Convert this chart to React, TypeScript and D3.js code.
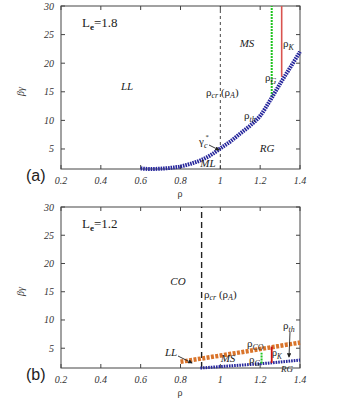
import React from 'react';
import * as d3 from 'd3';

// tick values
const xTicks = [0.2, 0.4, 0.6, 0.8, 1, 1.2, 1.4];
const yTicks = [5, 10, 15, 20, 25, 30];

// panel (a), Le = 1.8
const thA: [number, number][] = [
  [0.6, 1.6], [0.65, 1.5], [0.7, 1.55], [0.75, 1.7], [0.8, 1.95], [0.85, 2.4],
  [0.9, 3.0], [0.95, 3.9], [1.0, 5.1], [1.05, 6.3], [1.1, 7.7], [1.15, 9.1],
  [1.2, 10.8], [1.25, 13.5], [1.3, 16.4], [1.35, 19.2], [1.4, 22.0],
];
const crA = 1.0;
const gA: [number, number] = [1.258, 14.1];
const kA: [number, number] = [1.308, 17.6];

// panel (b), Le = 1.2
const thB: [number, number][] = [
  [0.9, 1.5], [1.0, 1.75], [1.1, 2.0], [1.2, 2.25], [1.3, 2.55], [1.4, 2.9],
];
const coB: [number, number][] = [[0.8, 2.6], [1.0, 3.7], [1.2, 4.85], [1.4, 6.0]];
const crB = 0.906;
const gB: [number, number, number] = [1.207, 2.3, 4.2];
const kB: [number, number, number] = [1.258, 2.4, 5.3];

const SERIF = '"Liberation Serif", "DejaVu Serif", serif';
const SANS = '"Liberation Sans", Arial, sans-serif';

function Sub({ x, y, main, sub, sup, size = 11, italicSub = true }: any) {
  return (
    <text x={x} y={y} fontFamily={SERIF} fontSize={size} fill="#222">
      {main}
      <tspan fontSize={size * 0.72} dy={3} fontStyle={italicSub ? 'italic' : 'normal'}>{sub}</tspan>
      {sup ? <tspan fontSize={size * 0.6} dy={-9} dx={-2}>{sup}</tspan> : null}
    </text>
  );
}

function Panel({ top, bottom, tag, children }: any) {
  const left = 61, right = 300;
  const x = d3.scaleLinear().domain([0.2, 1.4]).range([left, right]);
  const y = d3.scaleLinear().domain([1.5, 30]).range([bottom, top]);
  return (
    <g>
      <rect x={left} y={top} width={right - left} height={bottom - top} fill="none" stroke="#444" strokeWidth={1} />
      {xTicks.map(t => (
        <g key={'x' + t}>
          <line x1={x(t)} x2={x(t)} y1={bottom} y2={bottom - 4} stroke="#444" />
          <line x1={x(t)} x2={x(t)} y1={top} y2={top + 4} stroke="#444" />
          <text x={x(t)} y={bottom + 15} textAnchor="middle" fontFamily={SERIF} fontStyle="italic" fontSize={10} fill="#333">{t}</text>
        </g>
      ))}
      {yTicks.map(t => (
        <g key={'y' + t}>
          <line x1={left} x2={left + 4} y1={y(t)} y2={y(t)} stroke="#444" />
          <line x1={right} x2={right - 4} y1={y(t)} y2={y(t)} stroke="#444" />
          <text x={left - 7} y={y(t) + 3.5} textAnchor="end" fontFamily={SERIF} fontStyle="italic" fontSize={10} fill="#333">{t}</text>
        </g>
      ))}
      <text x={180} y={bottom + 28} textAnchor="middle" fontFamily={SERIF} fontSize={10} fill="#333">ρ</text>
      <text transform={`translate(24,${(top + bottom) / 2 + 4}) rotate(-90)`} textAnchor="middle" fontFamily={SERIF} fontStyle="italic" fontSize={10} fill="#333">βγ</text>
      <text x={26} y={bottom + 12} fontFamily={SANS} fontSize={16} fill="#222">{tag}</text>
      {children(x, y)}
    </g>
  );
}

export default function App() {
  const line = (x: any, y: any) => d3.line<[number, number]>().x(d => x(d[0])).y(d => y(d[1])).curve(d3.curveMonotoneX);
  return (
    <svg width={343} height={411} style={{ position: 'absolute', left: 0, top: 0, background: '#fff' }}>
      <defs>
        <marker id="arr" viewBox="0 0 6 6" refX="5" refY="3" markerWidth="5" markerHeight="5" orient="auto">
          <path d="M0,0 L6,3 L0,6 z" fill="#222" />
        </marker>
      </defs>
      <Panel top={6} bottom={169} tag="(a)">
        {(x: any, y: any) => (
          <g>
            <line x1={x(crA)} x2={x(crA)} y1={y(1.5)} y2={y(30)} stroke="#333" strokeWidth={0.9} strokeDasharray="3,3" />
            <line x1={x(gA[0])} x2={x(gA[0])} y1={y(gA[1])} y2={y(30)} stroke="#1fc41f" strokeWidth={2} strokeDasharray="2,1" />
            <line x1={x(kA[0])} x2={x(kA[0])} y1={y(kA[1])} y2={y(30)} stroke="#d9534f" strokeWidth={1.6} />
            <path d={line(x, y)(thA) || ''} fill="none" stroke="#26269c" strokeWidth={4} strokeDasharray="1.6,0.9" />
            <text x={82} y={27} fontFamily={SERIF} fontSize={13} fill="#222">L<tspan fontSize={9} dy={3} fontWeight="bold">e</tspan><tspan dy={-3}>=1.8</tspan></text>
            <text x={127} y={90} textAnchor="middle" fontFamily={SERIF} fontStyle="italic" fontSize={11} fill="#222">LL</text>
            <text x={247} y={47} textAnchor="middle" fontFamily={SERIF} fontStyle="italic" fontSize={11} fill="#222">MS</text>
            <Sub x={283} y={47} main="ρ" sub="K" />
            <Sub x={265} y={81} main="ρ" sub="G" />
            <text x={206} y={96} fontFamily={SERIF} fontSize={11} fill="#222">ρ<tspan fontSize={8} dy={2} fontStyle="italic">cr</tspan><tspan dy={-2}> (ρ</tspan><tspan fontSize={8} dy={2} fontStyle="italic">A</tspan><tspan dy={-2}>)</tspan></text>
            <Sub x={244} y={119} main="ρ" sub="th" />
            <Sub x={199} y={145} main="γ" sub="c" sup="*" />
            <line x1={209} y1={145} x2={219} y2={150} stroke="#222" strokeWidth={0.9} markerEnd="url(#arr)" />
            <text x={267} y={152} textAnchor="middle" fontFamily={SERIF} fontStyle="italic" fontSize={11} fill="#222">RG</text>
            <text x={208} y={167} textAnchor="middle" fontFamily={SERIF} fontStyle="italic" fontSize={11} fill="#222">ML</text>
          </g>
        )}
      </Panel>
      <Panel top={207} bottom={368} tag="(b)">
        {(x: any, y: any) => (
          <g>
            <line x1={x(crB)} x2={x(crB)} y1={y(1.5)} y2={y(30)} stroke="#222" strokeWidth={1.4} strokeDasharray="6,4" />
            <path d={line(x, y)(coB) || ''} fill="none" stroke="#d9742b" strokeWidth={4.5} strokeDasharray="3,1.4" />
            <path d={line(x, y)(thB) || ''} fill="none" stroke="#26269c" strokeWidth={3} strokeDasharray="1.6,1" />
            <line x1={x(gB[0])} x2={x(gB[0])} y1={y(gB[1])} y2={y(gB[2])} stroke="#1fc41f" strokeWidth={2} strokeDasharray="2,1" />
            <line x1={x(kB[0])} x2={x(kB[0])} y1={y(kB[1])} y2={y(kB[2])} stroke="#cc1111" strokeWidth={1.8} />
            <text x={82} y={228} fontFamily={SERIF} fontSize={13} fill="#222">L<tspan fontSize={9} dy={3} fontWeight="bold">e</tspan><tspan dy={-3}>=1.2</tspan></text>
            <text x={178} y={285} textAnchor="middle" fontFamily={SERIF} fontStyle="italic" fontSize={11} fill="#222">CO</text>
            <text x={204} y={298} fontFamily={SERIF} fontSize={11} fill="#222">ρ<tspan fontSize={8} dy={2} fontStyle="italic">cr</tspan><tspan dy={-2}> (ρ</tspan><tspan fontSize={8} dy={2} fontStyle="italic">A</tspan><tspan dy={-2}>)</tspan></text>
            <Sub x={283} y={329} main="ρ" sub="th" />
            <line x1={290} y1={332} x2={289} y2={357} stroke="#222" strokeWidth={0.9} markerEnd="url(#arr)" />
            <Sub x={247} y={347} main="ρ" sub="CO" />
            <text x={171} y={356} textAnchor="middle" fontFamily={SERIF} fontStyle="italic" fontSize={11} fill="#222">LL</text>
            <line x1={178} y1={356} x2={192} y2={363} stroke="#222" strokeWidth={0.9} markerEnd="url(#arr)" />
            <text x={228} y={362} textAnchor="middle" fontFamily={SERIF} fontStyle="italic" fontSize={11} fill="#222">MS</text>
            <Sub x={249} y={363} main="ρ" sub="G" />
            <Sub x={272} y={356} main="ρ" sub="K" size={10} />
            <text x={287} y={372} textAnchor="middle" fontFamily={SERIF} fontStyle="italic" fontSize={9} fill="#222">RG</text>
          </g>
        )}
      </Panel>
    </svg>
  );
}
